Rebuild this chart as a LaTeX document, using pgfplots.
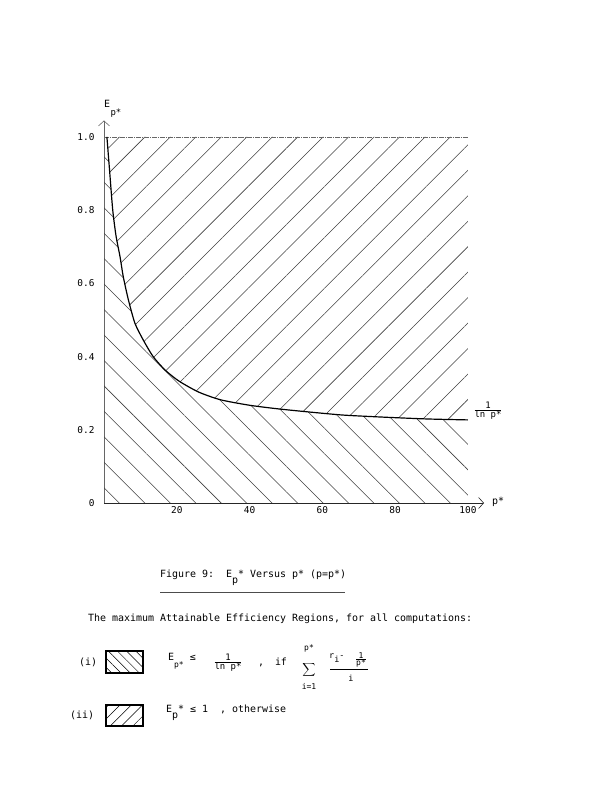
\documentclass[border=0pt]{standalone}
\usepackage{fontspec}
\setmainfont{DejaVu Sans Mono}
\usepackage{pgfplots}
\pgfplotsset{compat=1.18}
\usetikzlibrary{patterns.meta,arrows.meta}
\begin{document}
\fontsize{10}{12}\selectfont
\begin{tikzpicture}
\useasboundingbox (0,0) rectangle (612bp,791bp);
\begin{axis}[
  at={(104bp,288bp)}, anchor=south west,
  scale only axis, width=380bp, height=382.5bp,
  xmin=0, xmax=104.4, ymin=0, ymax=1.045,
  axis lines=left,
  axis line style={line width=0.6pt, -{Straight Barb[length=5bp,width=11bp]}},
  x axis line style={black!85},
  y axis line style={black!60},
  xtick={20,40,60,80,100}, xticklabels={20,40,60,80,100},
  ytick={0,0.2,0.4,0.6,0.8,1.0}, yticklabels={0,0.2,0.4,0.6,0.8,1.0},
  major tick length=0,
  tick label style={font=\fontsize{9.5}{11}\selectfont},
  yticklabel style={xshift=-6bp},
  clip=false,
]
% upper region (E <= 1)
\addplot[draw=none, pattern={Lines[angle=45,distance=18bp,line width=0.55pt]}, pattern color=black!75]
 coordinates {(0.8,1.0) (1.6,0.90) (2.4,0.80) (3.3,0.73) (4.4,0.673) (5.3,0.618) (6.7,0.555) (8.5,0.491) (10.8,0.445) (13.5,0.400) (16.8,0.363) (20.6,0.333) (26,0.303) (32,0.282) (40,0.267) (48,0.257) (57,0.248) (66,0.240) (78,0.234) (89,0.2295) (100,0.227) (100,1.0) (0.8,1.0)};
% lower region (E <= 1/ln p*)
\addplot[draw=none, pattern={Lines[angle=-45,distance=18bp,line width=0.55pt]}, pattern color=black!75]
 coordinates {(0,0) (0,1.0) (0.8,1.0) (1.6,0.90) (2.4,0.80) (3.3,0.73) (4.4,0.673) (5.3,0.618) (6.7,0.555) (8.5,0.491) (10.8,0.445) (13.5,0.400) (16.8,0.363) (20.6,0.333) (26,0.303) (32,0.282) (40,0.267) (48,0.257) (57,0.248) (66,0.240) (78,0.234) (89,0.2295) (100,0.227) (100,0)};
% top boundary E = 1
\addplot[black!60, line width=0.6pt, dash pattern=on 5pt off 1pt on 1pt off 1pt] coordinates {(0,1.0) (100,1.0)};
% curve 1/ln p*
\addplot[black, line width=1.2pt, smooth, tension=0.4]
 coordinates {(0.8,1.0) (1.6,0.90) (2.4,0.80) (3.3,0.73) (4.4,0.673) (5.3,0.618) (6.7,0.555) (8.5,0.491) (10.8,0.445) (13.5,0.400) (16.8,0.363) (20.6,0.333) (26,0.303) (32,0.282) (40,0.267) (48,0.257) (57,0.248) (66,0.240) (78,0.234) (89,0.2295) (100,0.227)};
\end{axis}
\begin{scope}[x=1bp,y=1bp]
% axis labels
\node[inner sep=0] at (107,687) {E};
\node[inner sep=0] at (116,678) {\fontsize{9}{9}\selectfont p*};
\node[inner sep=0] at (498,289) {p*};
\node[inner sep=0] at (488,380) {\fontsize{9}{9}\selectfont$\frac{\hbox{1}}{\hbox{ln p*}}$};
% caption
\node[anchor=west,inner sep=0] at (160,213) {Figure 9:~~E\raisebox{-1.1ex}{p}* Versus p* (p=p*)};
\draw[line width=0.5pt, black!70] (160,199) -- (345,199);
\node[anchor=west,inner sep=0] at (88,172) {The maximum Attainable Efficiency Regions, for all computations:};
% row (i)
\node[anchor=west,inner sep=0] at (79,129) {(i)};
\draw[line width=1.4pt, pattern={Lines[angle=-45,distance=6.5bp,line width=0.5pt]}] (106,118) rectangle (143,140);
\node[anchor=west,inner sep=0] at (168,130) {E\raisebox{-1.2ex}{\fontsize{8}{8}\selectfont p*}~≤};
\node[inner sep=0] at (228,128) {\fontsize{9}{9}\selectfont$\frac{\hbox{1}}{\hbox{ln p*}}$};
\node[inner sep=0] at (261,126) {,};
\node[inner sep=0] at (281,129) {if};
\node[inner sep=0] at (309,119) {\scalebox{0.92}{\smash{$\displaystyle\sum$}}};
\node[inner sep=0] at (309,143) {\fontsize{8}{8}\selectfont p*};
\node[inner sep=0] at (309,104.5) {\fontsize{8}{8}\selectfont i=1};
\node[anchor=west,inner sep=0] at (329,133) {\fontsize{8.5}{9}\selectfont r\raisebox{-0.9ex}{i}-};
\node[inner sep=0] at (361,131) {\fontsize{8}{8}\selectfont$\frac{\hbox{1}}{\hbox{p*}}$};
\draw[line width=0.5pt] (330,122) -- (368,122);
\node[inner sep=0] at (351,113) {\fontsize{8.5}{9}\selectfont i};
% row (ii)
\node[anchor=west,inner sep=0] at (70,76) {(ii)};
\draw[line width=1.4pt, pattern={Lines[angle=45,distance=8bp,line width=0.5pt]}] (106,65) rectangle (143,86);
\node[anchor=west,inner sep=0] at (166,78) {E\raisebox{-1.1ex}{p}*~≤~1~~, otherwise};
\end{scope}
\end{tikzpicture}
\end{document}
